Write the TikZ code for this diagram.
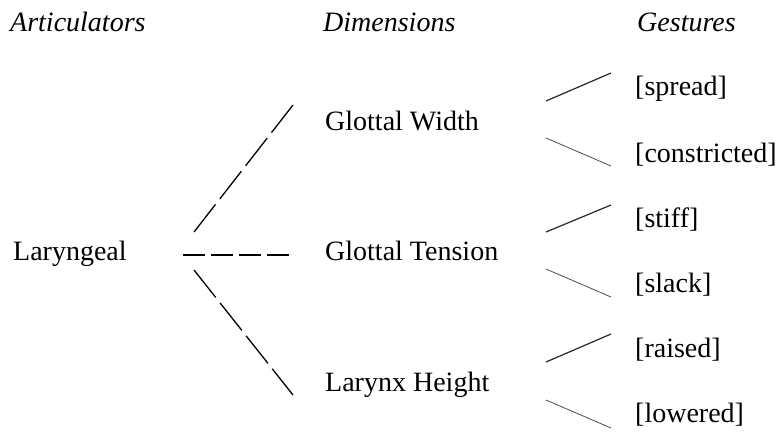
\documentclass[tikz,border=0pt]{standalone}
\usepackage{fontspec}
\setmainfont{Liberation Serif}
\begin{document}
\begin{tikzpicture}[x=1pt,y=-1pt,
  lbl/.style={anchor=base west,inner sep=0pt,font=\fontsize{28}{32}\selectfont},
  hdr/.style={lbl,font=\fontsize{28}{32}\selectfont\itshape},
  slantdash/.style={line width=1.3pt,dash pattern=on 35pt off 7pt},
  flatdash/.style={line width=1.3pt,dash pattern=on 21.5pt off 6.5pt},
  uptick/.style={line width=1.2pt,black!85},
  downtick/.style={line width=0.8pt,black!70}]
\useasboundingbox (0,0) rectangle (778,432);
% headers
\node[hdr] (hA) at (10,31) {Articulators};
\node[hdr] (hD) at (323,31) {Dimensions};
\node[hdr] (hG) at (637,31) {Gestures};
% articulator
\node[lbl] (lar) at (13,260) {Laryngeal};
% dimensions
\node[lbl] (gw) at (325,130) {Glottal Width};
\node[lbl] (gt) at (325,260) {Glottal Tension};
\node[lbl] (lh) at (325,391) {Larynx Height};
% gestures
\node[lbl] (spread) at (635,95) {[spread]};
\node[lbl] (constr) at (635,162) {[constricted]};
\node[lbl] (stiff) at (635,227) {[stiff]};
\node[lbl] (slack) at (635,292) {[slack]};
\node[lbl] (raised) at (635,357) {[raised]};
\node[lbl] (lowered) at (635,422) {[lowered]};
% connector end points
\coordinate (larU) at (194,232);
\coordinate (larM) at (183,255);
\coordinate (larD) at (194,270);
\coordinate (gwIn) at (293,105);
\coordinate (gtIn) at (290,255);
\coordinate (lhIn) at (293,395);
\coordinate (gwOutU) at (546,101);
\coordinate (gwOutD) at (546,138);
\coordinate (gtOutU) at (546,232);
\coordinate (gtOutD) at (546,269);
\coordinate (lhOutU) at (546,362);
\coordinate (lhOutD) at (546,400);
\coordinate (spIn) at (611,73);
\coordinate (coIn) at (611,166);
\coordinate (stIn) at (611,205);
\coordinate (slIn) at (611,297);
\coordinate (raIn) at (611,334);
\coordinate (loIn) at (611,428);
% articulator to dimensions
\draw[slantdash] (larU) -- (gwIn);
\draw[flatdash] (larM) -- (gtIn);
\draw[slantdash] (larD) -- (lhIn);
% dimensions to gestures
\draw[uptick] (gwOutU) -- (spIn);
\draw[downtick] (gwOutD) -- (coIn);
\draw[uptick] (gtOutU) -- (stIn);
\draw[downtick] (gtOutD) -- (slIn);
\draw[uptick] (lhOutU) -- (raIn);
\draw[downtick] (lhOutD) -- (loIn);
\end{tikzpicture}
\end{document}
